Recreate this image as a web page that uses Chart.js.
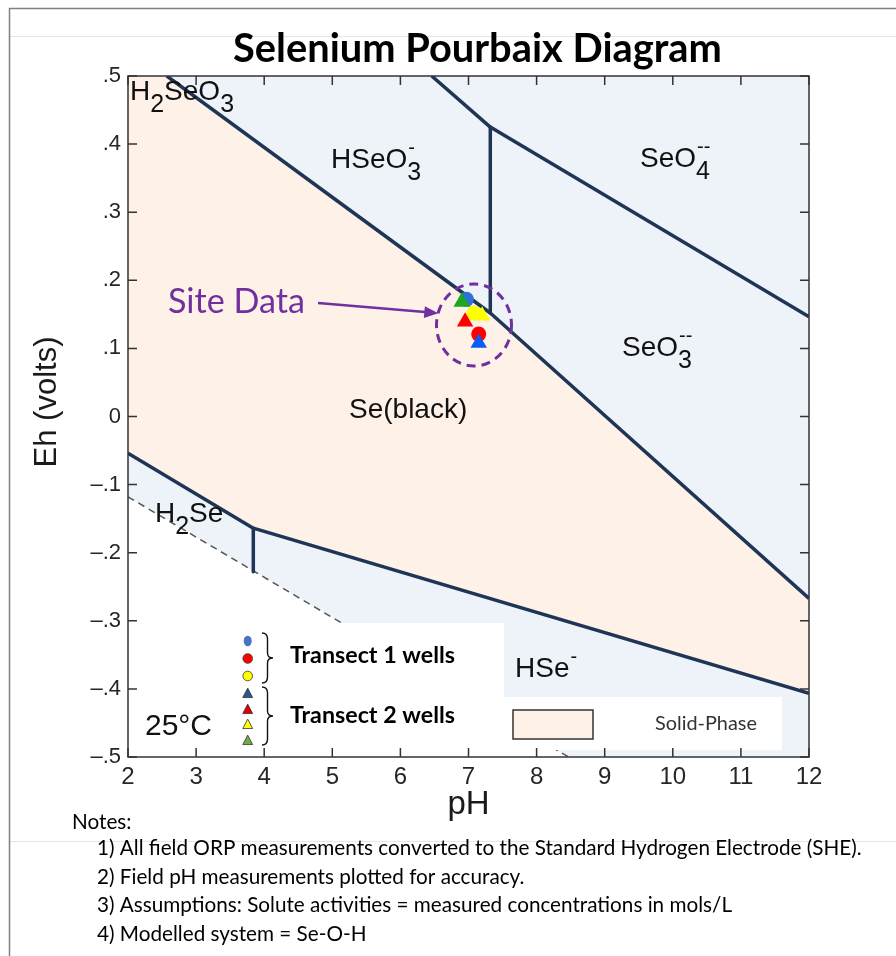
<!DOCTYPE html>
<html>
<head>
<meta charset="utf-8">
<title>Selenium Pourbaix Diagram</title>
<script src="https://cdn.jsdelivr.net/npm/chart.js@4.4.1/dist/chart.umd.min.js"></script>
<style>
  html, body { margin: 0; padding: 0; background: #fff; }
  #wrap { position: relative; width: 896px; height: 956px; }
</style>
</head>
<body>
<div id="wrap"><canvas id="pourbaix" width="896" height="956"></canvas></div>
<script>
// Axis ranges and ticks
const phRange = [2, 12];
const ehRange = [-0.5, 0.5];
const phTicks = [2, 3, 4, 5, 6, 7, 8, 9, 10, 11, 12];
const ehTicks = [-0.5, -0.4, -0.3, -0.2, -0.1, 0, 0.1, 0.2, 0.3, 0.4, 0.5];
const ehTickLabels = ['\u2013.5', '\u2013.4', '\u2013.3', '\u2013.2', '\u2013.1', '0', '.1', '.2', '.3', '.4', '.5'];

// Stability boundaries (pH, Eh in volts)
const seUpperPH = [2.57, 7.32, 12];          // Se(black) / H2SeO3, HSeO3-, SeO3--
const seUpperEh = [0.5, 0.152, -0.267];
const seo4PH = [6.46, 7.32, 12];             // HSeO3-, SeO3-- / SeO4--
const seo4Eh = [0.5, 0.425, 0.1465];
const hseo3PH = [7.32, 7.32];                // HSeO3- / SeO3--
const hseo3Eh = [0.425, 0.152];
const seLowerPH = [2, 3.84, 12];             // Se(black) / H2Se, HSe-
const seLowerEh = [-0.054, -0.164, -0.4065];
const h2sePH = [3.84, 3.84];                 // H2Se / HSe-
const h2seEh = [-0.164, -0.228];
const waterPH = [2, 8.47];                   // lower water stability limit
const waterEh = [-0.118, -0.5];

// Site data
const t1PH = [6.97, 7.15, 7.08];             // blue, red, yellow circles
const t1Eh = [0.172, 0.121, 0.152];
const t1Colors = ['#2E6FD8', '#FF0000', '#FFFF00'];
const t2PH = [7.15, 6.95, 7.2, 6.9];         // blue, red, yellow, green triangles
const t2Eh = [0.108, 0.139, 0.148, 0.168];
const t2Colors = ['#0A5CF5', '#FF0000', '#FFFF00', '#1FA51F'];

const navy = '#1F3556';
const peach = '#FDF1E8';
const lavender = '#EEF2F9';

const pts = (xs, ys) => xs.map((x, i) => ({ x: x, y: ys[i] }));

// polygon for the Se(black) solid phase and the area below the water line
const solidShape = [{ x: phRange[0], y: ehRange[1] }]
  .concat(pts(seUpperPH, seUpperEh))
  .concat(pts(seLowerPH, seLowerEh).reverse());
const waterShape = pts(waterPH, waterEh).concat([{ x: phRange[0], y: ehRange[0] }]);

function fitFont(ctx, text, weight, family, width) {
  ctx.font = weight + ' 100px ' + family;
  const size = 100 * width / ctx.measureText(text).width;
  return weight + ' ' + size.toFixed(2) + 'px ' + family;
}

// chemical formula with sub/superscripts: strings are plain, arrays are [sub, sup]
function drawChem(ctx, x, y, parts, size) {
  ctx.textAlign = 'left';
  ctx.textBaseline = 'alphabetic';
  for (const p of parts) {
    if (typeof p === 'string') {
      ctx.font = size + 'px "Liberation Sans", Arial, sans-serif';
      ctx.fillText(p, x, y);
      x += ctx.measureText(p).width;
    } else {
      let w = 0;
      if (p[0]) {
        ctx.font = Math.round(size * 0.88) + 'px "Liberation Sans", Arial, sans-serif';
        ctx.fillText(p[0], x, y + size * 0.42);
        w = ctx.measureText(p[0]).width;
      }
      if (p[1]) {
        ctx.font = Math.round(size * 0.7) + 'px "Liberation Sans", Arial, sans-serif';
        ctx.fillText(p[1], x + 1, y - size * 0.5);
        w = Math.max(w, ctx.measureText(p[1]).width + 1);
      }
      x += w;
    }
  }
}

function brace(ctx, x, y1, y2, w) {
  const m = (y1 + y2) / 2, h = w * 0.5;
  ctx.beginPath();
  ctx.moveTo(x, y1);
  ctx.quadraticCurveTo(x + h, y1, x + h, y1 + 6);
  ctx.lineTo(x + h, m - 5);
  ctx.quadraticCurveTo(x + h, m, x + w, m);
  ctx.quadraticCurveTo(x + h, m, x + h, m + 5);
  ctx.lineTo(x + h, y2 - 6);
  ctx.quadraticCurveTo(x + h, y2, x, y2);
  ctx.stroke();
}

function tri(ctx, x, y, s, fill) {
  ctx.beginPath();
  ctx.moveTo(x, y - s * 0.6);
  ctx.lineTo(x + s * 0.55, y + s * 0.45);
  ctx.lineTo(x - s * 0.55, y + s * 0.45);
  ctx.closePath();
  ctx.fillStyle = fill;
  ctx.fill();
  ctx.stroke();
}

const decorations = {
  id: 'decorations',
  beforeDraw(chart) {
    const { ctx, chartArea: a } = chart;
    ctx.save();
    ctx.fillStyle = '#fff';
    ctx.fillRect(0, 0, chart.width, chart.height);
    // slide frame
    ctx.strokeStyle = '#e6e6e6';
    ctx.lineWidth = 1;
    ctx.beginPath();
    ctx.moveTo(10, 36.5); ctx.lineTo(896, 36.5);
    ctx.moveTo(10, 841.5); ctx.lineTo(896, 841.5);
    ctx.stroke();
    ctx.strokeStyle = '#808080';
    ctx.lineWidth = 1.5;
    ctx.beginPath();
    ctx.moveTo(9.5, 956); ctx.lineTo(9.5, 8.5); ctx.lineTo(896, 8.5);
    ctx.stroke();
    // aqueous field background
    ctx.fillStyle = lavender;
    ctx.fillRect(a.left, a.top, a.right - a.left, a.bottom - a.top);
    ctx.restore();
  },
  afterDatasetsDraw(chart) {
    const { ctx, chartArea: a } = chart;
    const sx = chart.scales.x, sy = chart.scales.y;
    ctx.save();

    // legend boxes
    ctx.fillStyle = '#fff';
    ctx.fillRect(215, 623, 504 - 215, a.bottom - 623);
    ctx.fillRect(504, 697, 782 - 504, 750 - 697);
    ctx.fillStyle = peach;
    ctx.strokeStyle = '#333';
    ctx.lineWidth = 1.5;
    ctx.fillRect(513, 710, 80, 29);
    ctx.strokeRect(513, 710, 80, 29);
    ctx.fillStyle = '#333';
    ctx.textBaseline = 'alphabetic';
    ctx.font = fitFont(ctx, 'Solid-Phase', 'normal', 'Lato, sans-serif', 102);
    ctx.fillText('Solid-Phase', 655, 730);

    // transect legend
    ctx.strokeStyle = '#333';
    ctx.lineWidth = 0.8;
    ctx.fillStyle = '#4472C4';
    ctx.beginPath(); ctx.ellipse(247.7, 641, 4, 5.3, 0, 0, Math.PI * 2); ctx.fill();
    ctx.fillStyle = '#FF0000';
    ctx.beginPath(); ctx.arc(247.7, 658.5, 4.8, 0, Math.PI * 2); ctx.fill(); ctx.stroke();
    ctx.fillStyle = '#FFFF00';
    ctx.beginPath(); ctx.arc(247.7, 676, 4.8, 0, Math.PI * 2); ctx.fill(); ctx.stroke();
    tri(ctx, 247.7, 693.5, 9, '#2F5597');
    tri(ctx, 247.7, 709.5, 9, '#E00000');
    tri(ctx, 247.7, 724.5, 9, '#FFFF00');
    tri(ctx, 247.7, 740.5, 9, '#70AD47');
    ctx.strokeStyle = '#111';
    ctx.lineWidth = 1.4;
    brace(ctx, 262, 633, 683, 11);
    brace(ctx, 262, 687, 745, 11);
    ctx.fillStyle = '#000';
    ctx.font = fitFont(ctx, 'Transect 1 wells', 'bold', 'Lato, sans-serif', 165);
    ctx.fillText('Transect 1 wells', 290, 663);
    ctx.fillText('Transect 2 wells', 290, 723);

    // field labels
    ctx.fillStyle = '#111';
    drawChem(ctx, 130, 100, ['H', ['2'], 'SeO', ['3']], 28);
    drawChem(ctx, 331, 168, ['HSeO', ['3', '-']], 28);
    drawChem(ctx, 640, 167, ['SeO', ['4', '--']], 28);
    drawChem(ctx, 622, 356, ['SeO', ['3', '--']], 28);
    drawChem(ctx, 349, 418, ['Se(black)'], 28);
    drawChem(ctx, 155, 522, ['H', ['2'], 'Se'], 28);
    drawChem(ctx, 515, 677, ['HSe', [null, '-']], 28);
    drawChem(ctx, 145, 735, ['25\u00B0C'], 30);

    // site data callout
    const purple = '#7030A0';
    ctx.fillStyle = purple;
    ctx.font = fitFont(ctx, 'Site Data', 'normal', 'Lato, sans-serif', 137);
    ctx.fillText('Site Data', 168, 313);
    ctx.strokeStyle = purple;
    ctx.lineWidth = 2.5;
    ctx.beginPath(); ctx.moveTo(318, 303); ctx.lineTo(428, 312.2); ctx.stroke();
    const ang = Math.atan2(313.3 - 303, 438.3 - 318);
    ctx.beginPath();
    ctx.moveTo(438.3, 313.3);
    ctx.lineTo(438.3 - 14 * Math.cos(ang) + 6 * Math.sin(ang), 313.3 - 14 * Math.sin(ang) - 6 * Math.cos(ang));
    ctx.lineTo(438.3 - 14 * Math.cos(ang) - 6 * Math.sin(ang), 313.3 - 14 * Math.sin(ang) + 6 * Math.cos(ang));
    ctx.closePath(); ctx.fill();
    ctx.lineWidth = 3;
    ctx.setLineDash([9, 6]);
    ctx.beginPath(); ctx.ellipse(474, 325, 37.5, 41, 0, 0, Math.PI * 2); ctx.stroke();
    ctx.setLineDash([]);

    // plot frame with inward ticks
    ctx.strokeStyle = '#333';
    ctx.lineWidth = 1.5;
    ctx.strokeRect(a.left, a.top, a.right - a.left, a.bottom - a.top);
    ctx.beginPath();
    for (const v of phTicks) {
      const px = sx.getPixelForValue(v);
      ctx.moveTo(px, a.bottom); ctx.lineTo(px, a.bottom - 9);
      ctx.moveTo(px, a.top); ctx.lineTo(px, a.top + 9);
    }
    for (const v of ehTicks) {
      const py = sy.getPixelForValue(v);
      ctx.moveTo(a.left, py); ctx.lineTo(a.left + 9, py);
      ctx.moveTo(a.right, py); ctx.lineTo(a.right - 9, py);
    }
    ctx.stroke();

    // axis titles
    ctx.fillStyle = '#1a1a1a';
    ctx.textAlign = 'center';
    ctx.font = '33px "Liberation Sans", Arial, sans-serif';
    ctx.fillText('pH', (a.left + a.right) / 2, 814);
    ctx.save();
    ctx.translate(56, 402);
    ctx.rotate(-Math.PI / 2);
    ctx.font = '31px "Liberation Sans", Arial, sans-serif';
    ctx.fillText('Eh (volts)', 0, 0);
    ctx.restore();

    // title
    ctx.fillStyle = '#000';
    ctx.textAlign = 'left';
    ctx.font = fitFont(ctx, 'Selenium Pourbaix Diagram', 'bold', 'Lato, sans-serif', 489);
    ctx.fillText('Selenium Pourbaix Diagram', 233, 62);

    // notes
    const notes = [
      '1) All field ORP measurements converted to the Standard Hydrogen Electrode (SHE).',
      '2) Field pH measurements plotted for accuracy.',
      '3) Assumptions: Solute activities = measured concentrations in mols/L',
      '4) Modelled system = Se-O-H'
    ];
    ctx.font = fitFont(ctx, notes[0], 'normal', 'Lato, sans-serif', 765);
    ctx.fillText('Notes:', 72, 829);
    notes.forEach((t, i) => ctx.fillText(t, 97, 855 + i * 28.5));
    ctx.restore();
  }
};

const lineSet = (xs, ys, extra) => Object.assign({
  data: pts(xs, ys), borderColor: navy, borderWidth: 3.5, pointRadius: 0,
  fill: false, order: 3, borderCapStyle: 'butt', borderJoinStyle: 'round'
}, extra || {});

const chart = new Chart(document.getElementById('pourbaix').getContext('2d'), {
  type: 'line',
  data: {
    datasets: [
      { label: 'Transect 2 wells', data: pts(t2PH, t2Eh), showLine: false, pointStyle: 'triangle',
        pointRadius: 9.5, pointBackgroundColor: t2Colors, pointBorderWidth: 0, order: 1 },
      { label: 'Transect 1 wells', data: pts(t1PH, t1Eh), showLine: false, pointStyle: 'circle',
        pointRadius: 7.5, pointBackgroundColor: t1Colors, pointBorderWidth: 0, order: 2 },
      lineSet(seUpperPH, seUpperEh),
      lineSet(seo4PH, seo4Eh),
      lineSet(hseo3PH, hseo3Eh),
      lineSet(seLowerPH, seLowerEh),
      lineSet(h2sePH, h2seEh),
      lineSet(waterPH, waterEh, { borderColor: '#555', borderWidth: 1.5, borderDash: [7, 5], order: 4 }),
      { data: waterShape, borderWidth: 0, borderColor: 'transparent', backgroundColor: '#ffffff',
        fill: 'shape', pointRadius: 0, order: 8 },
      { data: solidShape, borderWidth: 0, borderColor: 'transparent', backgroundColor: peach,
        fill: 'shape', pointRadius: 0, order: 9 }
    ]
  },
  options: {
    responsive: false,
    devicePixelRatio: 1,
    animation: false,
    events: [],
    // chart area fixed at 128..809 x 76..757
    layout: { padding: { left: 68, top: 76, right: 87, bottom: 159 } },
    plugins: { legend: { display: false }, tooltip: { enabled: false }, title: { display: false } },
    scales: {
      x: {
        type: 'linear', min: phRange[0], max: phRange[1],
        grid: { display: false, drawTicks: false },
        border: { display: false },
        afterBuildTicks: s => { s.ticks = phTicks.map(v => ({ value: v })); },
        afterFit: s => { s.height = 40; },
        ticks: { padding: 6, color: '#262626', maxRotation: 0, autoSkip: false,
                 font: { family: '"Liberation Sans", Arial, sans-serif', size: 24 } }
      },
      y: {
        type: 'linear', min: ehRange[0], max: ehRange[1],
        grid: { display: false, drawTicks: false },
        border: { display: false },
        afterBuildTicks: s => { s.ticks = ehTicks.map(v => ({ value: v })); },
        afterFit: s => { s.width = 60; },
        ticks: { padding: 7, color: '#262626', autoSkip: false,
                 callback: (v, i) => ehTickLabels[i],
                 font: { family: '"Liberation Sans", Arial, sans-serif', size: 22 } }
      }
    }
  },
  plugins: [decorations]
});
</script>
</body>
</html>
